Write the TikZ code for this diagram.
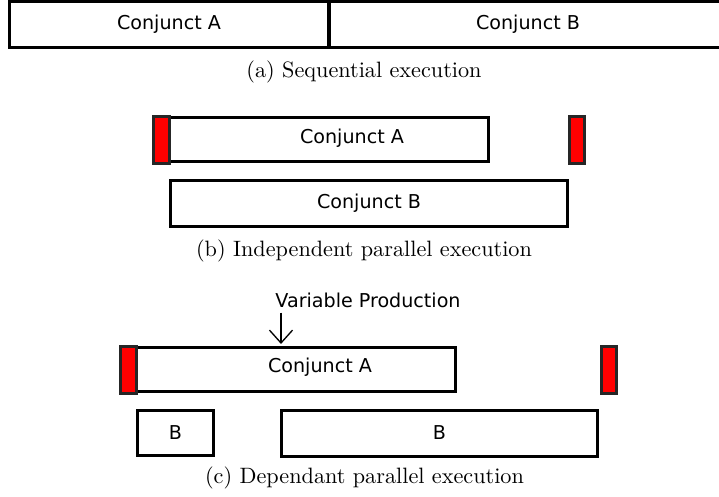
\documentclass[tikz,border=0pt]{standalone}
\usepackage{fontspec}
\newfontfamily\labelfont{DejaVu Sans}
\usetikzlibrary{arrows.meta}
\begin{document}
\begin{tikzpicture}[x=0.45pt,y=-0.45pt,
  bar/.style={draw=black, line width=1.35pt, fill=white},
  lockbar/.style={draw=black!85, line width=1.35pt, fill=red},
  lbl/.style={font=\labelfont\fontsize{8.6}{10}\selectfont, inner sep=0pt},
  captiontext/.style={font=\fontsize{10}{12}\selectfont, inner sep=0pt},
  prodarrow/.style={line width=0.6pt, -{Straight Barb[length=5.8pt,width=10.4pt]}}]
\useasboundingbox (0,0) rectangle (719,497);
\clip (0,0) rectangle (719,497);

% (a) sequential: B starts after A ends
\draw[bar] (9.5,1.5) rectangle (328,47.5);
\draw[bar] (329.5,1.5) rectangle (727,47.5);
\node[lbl] (seqA) at (169,24.5) {Conjunct A};
\node[lbl] (seqB) at (528,24.5) {Conjunct B};
\node[captiontext] (capA) at (364,71.5) {(a) Sequential execution};

% (b) independent parallel
\draw[bar] (169.5,117.5) rectangle (488.5,162);
\draw[lockbar] (153.5,116.5) rectangle (169.5,163.5);
\draw[lockbar] (569.5,116.5) rectangle (584.5,163.5);
\draw[bar] (170.5,180.5) rectangle (567.5,226.5);
\node[lbl] (indA) at (352,138) {Conjunct A};
\node[lbl] (indB) at (369,203) {Conjunct B};
\node[captiontext] (capB) at (364,251) {(b) Independent parallel execution};

% (c) dependant parallel
\draw[bar] (136.5,347.5) rectangle (455.5,391.5);
\draw[lockbar] (120.5,346.5) rectangle (136.5,393.5);
\draw[lockbar] (601.5,346.5) rectangle (616.5,393.5);
\draw[bar] (137.5,410.5) rectangle (213.5,455.5);
\draw[bar] (281.5,410.5) rectangle (597.5,456.5);
\node[lbl] (depA) at (320,367) {Conjunct A};
\node[lbl] (depB1) at (175.5,432.5) {B};
\node[lbl] (depB2) at (439.5,433) {B};
\node[lbl, anchor=base] (prod) at (368,308) {Variable Production};
\coordinate (prodpt) at (281,344);
\draw[prodarrow, shorten <=1.8pt] (prod.south -| prodpt) -- (prodpt);
\node[captiontext] (capC) at (364.5,477.5) {(c) Dependant parallel execution};
\end{tikzpicture}
\end{document}
